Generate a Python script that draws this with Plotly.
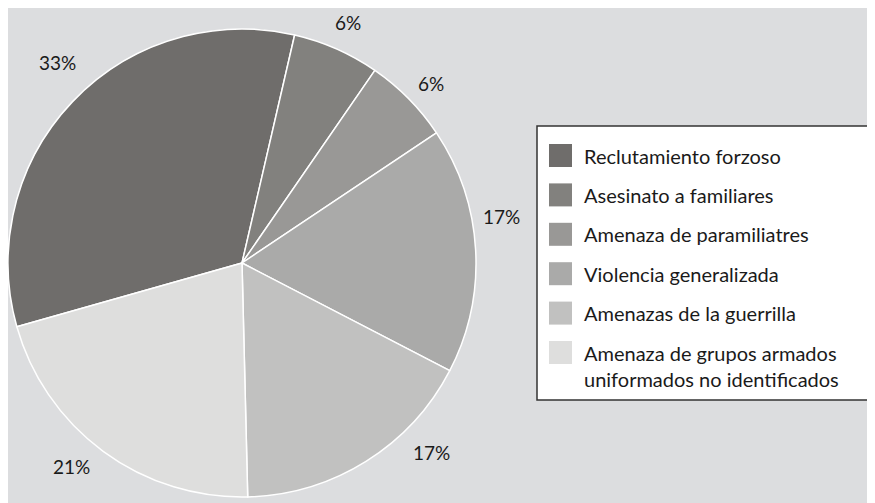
import numpy as np
import plotly.graph_objects as go

# %%
labels = [
    "Reclutamiento forzoso",
    "Asesinato a familiares",
    "Amenaza de paramiliatres",
    "Violencia generalizada",
    "Amenazas de la guerrilla",
    "Amenaza de grupos armados<br>uniformados no identificados",
]
values = [33, 6, 6, 17, 17, 21]
colors = ["#6f6d6b", "#82817e", "#999896", "#aaaaa9", "#c1c1c0", "#dededd"]

OFF = 8  # page body margin in the browser
W, H = 875 - OFF, 503 - OFF
FONT = "Lato"
BG = "#dcdddf"


def px(x):
    return (x - OFF) / W


def py(y):
    return 1 - (y - OFF) / H


# pie geometry (screen px)
cx, cy = 242, 263
R = cx - OFF
rotation = -105.8

# small nudges for the outside % labels (angle deg, radius factor)
label_nudge = [(3.8, 1.16), (0, 1.12), (1, 1.11), (-7, 1.12), (-13, 1.14), (3.6, 1.13)]

# %%
fig = go.Figure(go.Pie(
    labels=labels,
    values=values,
    sort=False,
    direction="clockwise",
    rotation=rotation,
    marker=dict(colors=colors, line=dict(color="white", width=1.5)),
    textinfo="none",
    hoverinfo="label+percent",
    showlegend=False,
    domain=dict(x=[px(cx - R), px(cx + R)],
                y=[max(py(cy + R), 0), py(cy - R)]),
))

# % labels outside the pie
total = sum(values)
cum = np.cumsum([0] + values[:-1])
annotations = []
for v, c, (da, rf) in zip(values, cum, label_nudge):
    th = np.deg2rad(rotation + 360 * (c + v / 2) / total + da)
    x = cx + 235 * rf * np.sin(th)
    y = cy - 235 * rf * np.cos(th)
    annotations.append(dict(
        x=px(x), y=py(y), xref="paper", yref="paper",
        text="{}%".format(round(100 * v / total)), showarrow=False,
        font=dict(family=FONT, size=19, color="#1a1a1a"),
        xanchor="center", yanchor="middle",
    ))

# custom legend: white box open on the right edge
bx0, by0, by1 = px(537), py(400), py(126)
shapes = [
    dict(type="rect", xref="paper", yref="paper",
         x0=bx0, x1=1.02, y0=by0, y1=by1,
         fillcolor="white", line=dict(width=0), layer="below"),
    dict(type="path", xref="paper", yref="paper",
         path="M 1.02,{b} L {x},{b} L {x},{t} L 1.02,{t}".format(x=bx0, b=by0, t=by1),
         line=dict(color="#333333", width=1.5), layer="below"),
]
y0, step = 155.5, 39.4
for i, (lab, col) in enumerate(zip(labels, colors)):
    yc = y0 + i * step
    shapes.append(dict(type="rect", xref="paper", yref="paper",
                       x0=px(549), x1=px(572),
                       y0=py(yc + 11.5), y1=py(yc - 11.5),
                       fillcolor=col, line=dict(width=0), layer="below"))
    annotations.append(dict(
        x=px(582), y=py(yc - 14), xref="paper", yref="paper",
        text=lab, showarrow=False, align="left",
        font=dict(family=FONT, size=20, color="#1a1a1a"),
        xanchor="left", yanchor="top",
    ))

fig.update_layout(
    width=W, height=H,
    margin=dict(l=0, r=0, t=0, b=0),
    paper_bgcolor=BG,
    plot_bgcolor=BG,
    shapes=shapes,
    annotations=annotations,
    font=dict(family=FONT),
)

fig.write_html("out.html")
